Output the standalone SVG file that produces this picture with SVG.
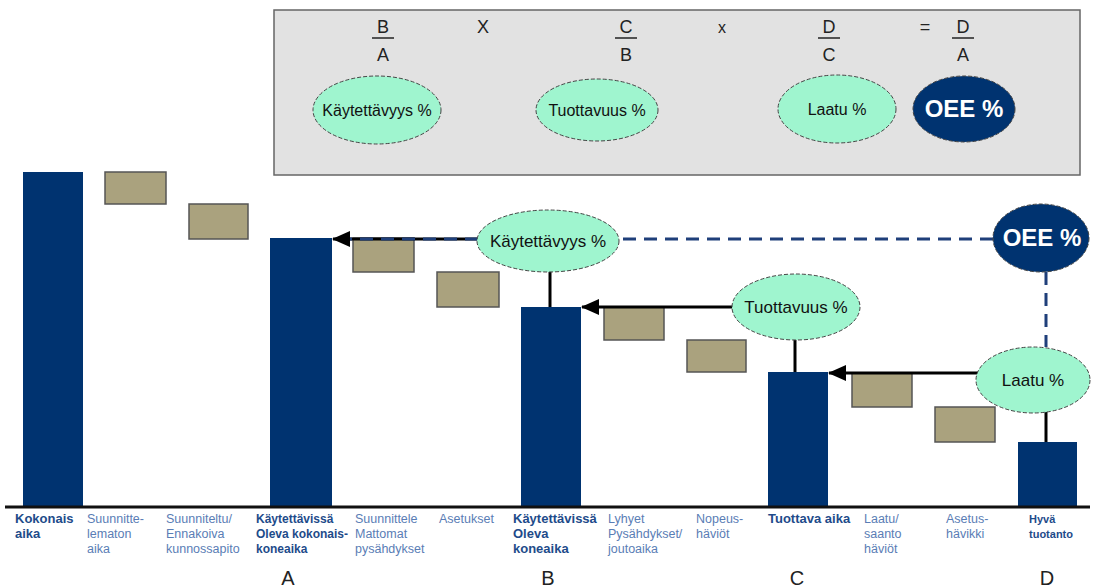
<svg xmlns="http://www.w3.org/2000/svg" width="1094" height="588" viewBox="0 0 1094 588">
<style>
.bar{fill:#003370;}
.loss{fill:#aaa27e;stroke:#555;stroke-width:1.5;}
.ell{fill:#9ff5cf;stroke:#444;stroke-width:1;stroke-dasharray:4 2;}
.oee{fill:#003370;stroke:#444;stroke-width:1;stroke-dasharray:4 2;}
.et{font-family:"Liberation Sans",Arial,sans-serif;fill:#111;text-anchor:middle;}
.ot{font-family:"Liberation Sans",Arial,sans-serif;fill:#fff;font-weight:bold;font-size:24px;text-anchor:middle;}
.f{font-family:"Liberation Sans",Arial,sans-serif;font-size:18px;fill:#222;text-anchor:middle;}
.lb{font-family:"Liberation Sans",Arial,sans-serif;font-size:13px;font-weight:bold;fill:#1e4b8a;}
.lr{font-family:"Liberation Sans",Arial,sans-serif;font-size:12.5px;fill:#5a7db5;}
.abc{font-family:"Liberation Sans",Arial,sans-serif;font-size:20px;fill:#222;text-anchor:middle;}
.solid{stroke:#000;stroke-width:3;fill:none;}
.dash{stroke:#1f3f7a;stroke-width:3;fill:none;stroke-dasharray:13 8;}
</style>
<defs>
<marker id="ah" markerUnits="userSpaceOnUse" markerWidth="18" markerHeight="16" refX="17" refY="8" orient="auto" viewBox="0 0 18 16">
<path d="M0,0 L18,8 L0,16 Z" fill="#000"/>
</marker>
</defs>
<rect width="1094" height="588" fill="#fff"/>

<g id="formula">
<rect x="274" y="10" width="806" height="165" fill="#e2e2e2" stroke="#666" stroke-width="1.5"/>
<text class="f" x="383" y="33">B</text><line x1="372" y1="38" x2="394" y2="38" stroke="#222" stroke-width="1.5"/><text class="f" x="383" y="61">A</text>
<text class="f" x="483" y="33">X</text>
<text class="f" x="626" y="33">C</text><line x1="615" y1="38" x2="637" y2="38" stroke="#222" stroke-width="1.5"/><text class="f" x="626" y="61">B</text>
<text class="f" x="722" y="33" style="font-size:16px">x</text>
<text class="f" x="829" y="33">D</text><line x1="818" y1="38" x2="840" y2="38" stroke="#222" stroke-width="1.5"/><text class="f" x="829" y="61">C</text>
<text class="f" x="925" y="33">=</text>
<text class="f" x="963" y="33">D</text><line x1="952" y1="38" x2="974" y2="38" stroke="#222" stroke-width="1.5"/><text class="f" x="963" y="61">A</text>
</g>
<g id="top-kaytettavyys"><ellipse class="ell" cx="377" cy="110" rx="64" ry="34"/><text class="et" x="377" y="116" font-size="16">Käytettävyys %</text></g>
<g id="top-tuottavuus"><ellipse class="ell" cx="597" cy="110" rx="61" ry="31"/><text class="et" x="597" y="116" font-size="16">Tuottavuus %</text></g>
<g id="top-laatu"><ellipse class="ell" cx="837" cy="109" rx="59" ry="34"/><text class="et" x="837" y="115" font-size="16">Laatu %</text></g>
<g id="top-oee"><ellipse class="oee" cx="964" cy="109" rx="51" ry="33"/><text class="ot" x="964" y="117">OEE %</text></g>

<g id="bars">
<rect class="bar" x="23" y="172" width="60" height="335"/>
<rect class="bar" x="270" y="238" width="62" height="269"/>
<rect class="bar" x="521" y="307" width="60" height="200"/>
<rect class="bar" x="768" y="372" width="60" height="135"/>
<rect class="bar" x="1018" y="442" width="59" height="65"/>
</g>
<g id="losses">
<rect class="loss" x="105" y="172" width="61" height="32"/>
<rect class="loss" x="189" y="204" width="59" height="35"/>
<rect class="loss" x="353" y="238" width="61" height="34"/>
<rect class="loss" x="437" y="272" width="62" height="35"/>
<rect class="loss" x="604" y="307" width="60" height="33"/>
<rect class="loss" x="687" y="340" width="59" height="32"/>
<rect class="loss" x="852" y="373" width="60" height="34"/>
<rect class="loss" x="935" y="407" width="60" height="35"/>
</g>
<line x1="5" y1="507" x2="1090" y2="507" stroke="#111" stroke-width="3"/>

<g id="connectors">
<line class="dash" x1="993" y1="239" x2="618" y2="239"/>
<line class="solid" x1="478" y1="239" x2="333" y2="239" marker-end="url(#ah)"/>
<line class="dash" x1="478" y1="239" x2="350" y2="239"/>
<line class="dash" x1="1046" y1="272" x2="1046" y2="347"/>
<line class="solid" x1="550" y1="271" x2="550" y2="307"/>
<line class="solid" x1="733" y1="307" x2="582" y2="307" marker-end="url(#ah)"/>
<line class="solid" x1="795" y1="339" x2="795" y2="372"/>
<line class="solid" x1="978" y1="373" x2="829" y2="373" marker-end="url(#ah)"/>
<line class="solid" x1="1046" y1="412" x2="1046" y2="442"/>
</g>

<g id="kaytettavyys"><ellipse class="ell" cx="548" cy="241" rx="71" ry="31"/><text class="et" x="548" y="247" font-size="17">Käytettävyys %</text></g>
<g id="tuottavuus"><ellipse class="ell" cx="796" cy="307" rx="64" ry="33"/><text class="et" x="796" y="313" font-size="17">Tuottavuus %</text></g>
<g id="laatu"><ellipse class="ell" cx="1033" cy="380" rx="57" ry="33"/><text class="et" x="1033" y="386" font-size="17">Laatu %</text></g>
<g id="oee"><ellipse class="oee" cx="1041" cy="238" rx="48" ry="34"/><text class="ot" x="1042" y="246">OEE %</text></g>

<g id="labels">
<text class="lb" x="15" y="523">Kokonais<tspan x="15" dy="15">aika</tspan></text>
<text class="lr" x="87" y="523">Suunnitte-<tspan x="87" dy="15">lematon</tspan><tspan x="87" dy="15">aika</tspan></text>
<text class="lr" x="166" y="523">Suunniteltu/<tspan x="166" dy="15">Ennakoiva</tspan><tspan x="166" dy="15">kunnossapito</tspan></text>
<text class="lb" x="256" y="523" style="font-size:12px">Käytettävissä<tspan x="256" dy="15">Oleva kokonais-</tspan><tspan x="256" dy="15">koneaika</tspan></text>
<text class="lr" x="355" y="523">Suunnittele<tspan x="355" dy="15">Mattomat</tspan><tspan x="355" dy="15">pysähdykset</tspan></text>
<text class="lr" x="439" y="523">Asetukset</text>
<text class="lb" x="513" y="523">Käytettävissä<tspan x="513" dy="15">Oleva</tspan><tspan x="513" dy="15">koneaika</tspan></text>
<text class="lr" x="608" y="523">Lyhyet<tspan x="608" dy="15">Pysähdykset/</tspan><tspan x="608" dy="15">joutoaika</tspan></text>
<text class="lr" x="696" y="523">Nopeus-<tspan x="696" dy="15">häviöt</tspan></text>
<text class="lb" x="768" y="523">Tuottava aika</text>
<text class="lr" x="864" y="523">Laatu/<tspan x="864" dy="15">saanto</tspan><tspan x="864" dy="15">häviöt</tspan></text>
<text class="lr" x="946" y="523">Asetus-<tspan x="946" dy="15">hävikki</tspan></text>
<text class="lb" x="1029" y="523" style="font-size:11px">Hyvä<tspan x="1029" dy="15">tuotanto</tspan></text>
<text class="abc" x="288" y="585">A</text>
<text class="abc" x="548" y="585">B</text>
<text class="abc" x="797" y="585">C</text>
<text class="abc" x="1047" y="585">D</text>
</g>
</svg>
